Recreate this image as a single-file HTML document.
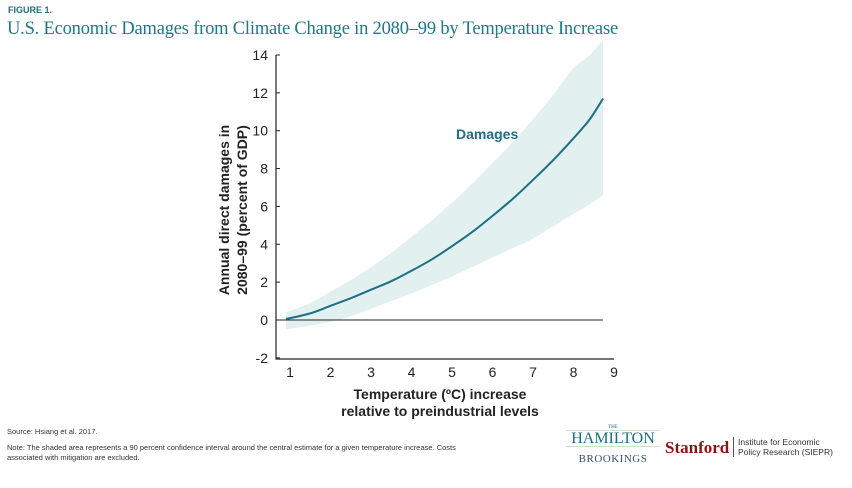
<!DOCTYPE html>
<html><head><meta charset="utf-8"><style>
body{margin:0;background:#fff;width:852px;height:488px;overflow:hidden;font-family:"Liberation Sans",sans-serif;position:relative}
.fig{position:absolute;left:8px;top:5px;font-size:9px;font-weight:bold;color:#1c6f7e}
.title{position:absolute;left:7px;top:19px;font-family:"Liberation Serif",serif;font-size:18.5px;letter-spacing:-0.2px;color:#1c7a87;white-space:nowrap}
.src{position:absolute;left:7px;font-size:7.5px;color:#333;line-height:10px}
</style></head><body>
<div class="fig">FIGURE 1.</div>
<div class="title">U.S. Economic Damages from Climate Change in 2080–99 by Temperature Increase</div>
<svg width="852" height="488" style="position:absolute;left:0;top:0" id="chart"></svg>
<div class="src" style="top:427px">Source: Hsiang et al. 2017.</div>
<div class="src" style="top:443px;width:485px">Note: The shaded area represents a 90 percent confidence interval around the central estimate for a given temperature increase. Costs associated with mitigation are excluded.</div>
<div style="position:absolute;left:566px;top:425px;width:94px;text-align:center;font-family:'Liberation Serif',serif;color:#1c6f7e">
<div style="font-size:5px;line-height:5px">THE</div>
<div style="font-size:16px;line-height:15px;border-top:1px solid #cfe0c8;border-bottom:1px solid #cfe0c8">HAMILTON</div>
<div style="font-size:11px;color:#35507a;margin-top:6px;letter-spacing:0.5px">BROOKINGS</div></div>
<div style="position:absolute;left:665px;top:438px;font-family:'Liberation Serif',serif;font-weight:bold;font-size:17px;color:#8c1515">Stanford</div>
<div style="position:absolute;left:733px;top:437px;border-left:1px solid #555;padding-left:4px;font-size:8.5px;line-height:10px;color:#333">Institute for Economic<br>Policy Research (SIEPR)</div>
<script>
const xs=[0.9,1.5,2,2.5,3,3.5,4,4.5,5,5.5,6,6.5,7,7.5,8,8.4,8.73];
const central=[0.05,0.35,0.75,1.15,1.6,2.05,2.6,3.2,3.9,4.65,5.5,6.4,7.4,8.45,9.6,10.6,11.7];
const upper=[0.4,0.9,1.5,2.1,2.8,3.55,4.4,5.25,6.2,7.2,8.3,9.4,10.6,11.9,13.3,14.0,14.8];
const lower=[-0.5,-0.3,-0.1,0.2,0.6,1.0,1.4,1.85,2.3,2.8,3.3,3.8,4.3,4.95,5.6,6.1,6.6];
const xTicks=[1,2,3,4,5,6,7,8,9];
const yTicks=[-2,0,2,4,6,8,10,12,14];
const X=v=>290+(v-1)*40.5, Y=v=>320-v*18.93;
const svg=document.getElementById('chart');const NS='http://www.w3.org/2000/svg';
function mk(t,a,txt){const e=document.createElementNS(NS,t);for(const k in a)e.setAttribute(k,a[k]);if(txt!==undefined)e.textContent=txt;svg.appendChild(e);return e;}
function smooth(pts,start){let d=(start?'M':'L')+pts[0][0]+','+pts[0][1];
for(let i=0;i<pts.length-1;i++){const p0=pts[Math.max(i-1,0)],p1=pts[i],p2=pts[i+1],p3=pts[Math.min(i+2,pts.length-1)];
d+='C'+(p1[0]+(p2[0]-p0[0])/6)+','+(p1[1]+(p2[1]-p0[1])/6)+' '+(p2[0]-(p3[0]-p1[0])/6)+','+(p2[1]-(p3[1]-p1[1])/6)+' '+p2[0]+','+p2[1];}
return d;}
const up=xs.map((x,i)=>[X(x),Y(upper[i])]);
const lo=xs.map((x,i)=>[X(x),Y(lower[i])]).reverse();
const band=mk('path',{d:smooth(up,true)+smooth(lo,false)+'Z',fill:'#e2f0ef'});


const zl=mk('line',{x1:276,x2:603,y1:Y(0),y2:Y(0),stroke:'#222','stroke-width':1});


const ln=mk('path',{d:smooth(xs.map((x,i)=>[X(x),Y(central[i])]),true),fill:'none',stroke:'#1c6f86','stroke-width':2});


const ax=mk('path',{d:'M276,55V359H614',fill:'none',stroke:'#222','stroke-width':1.2});


yTicks.forEach(v=>{const t=mk('text',{x:268,y:Y(v)+5,'text-anchor':'end','font-size':14,fill:'#222'},v);


mk('line',{x1:276,x2:280,y1:Y(v),y2:Y(v),stroke:'#222'});});
xTicks.forEach(v=>{const t=mk('text',{x:X(v),y:377,'text-anchor':'middle','font-size':14,fill:'#222'},v);

});
const lb=mk('text',{x:456,y:139,'font-size':14,'font-weight':'bold',fill:'#1c6f86'},'Damages');


const xt=mk('text',{x:440,y:399,'text-anchor':'middle','font-size':14,'font-weight':'bold',fill:'#222'},'Temperature (ºC) increase');


const xt2=mk('text',{x:440,y:416,'text-anchor':'middle','font-size':14,'font-weight':'bold',fill:'#222'},'relative to preindustrial levels');


const yt=mk('text',{transform:'translate(229,210) rotate(-90)','text-anchor':'middle','font-size':14,'font-weight':'bold',fill:'#222'},'Annual direct damages in');


const yt2=mk('text',{transform:'translate(247,210) rotate(-90)','text-anchor':'middle','font-size':14,'font-weight':'bold',fill:'#222'},'2080–99 (percent of GDP)');


</script>
</body></html>
